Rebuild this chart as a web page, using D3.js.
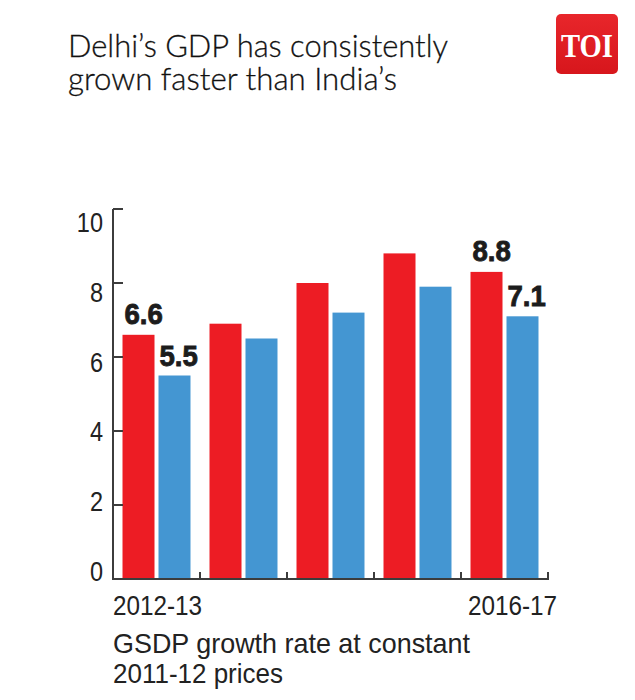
<!DOCTYPE html>
<html>
<head>
<meta charset="utf-8">
<script src="https://cdn.jsdelivr.net/npm/d3@7/dist/d3.min.js"></script>
<style>
  html, body { margin: 0; padding: 0; background: #ffffff; }
  svg { display: block; }
</style>
</head>
<body>
<svg id="chart" width="635" height="700"></svg>
<script>
// ---- data ----
const years = ["2012-13", "2013-14", "2014-15", "2015-16", "2016-17"];
const delhiGrowth = [6.6, 6.9, 8.0, 8.8, 8.3];
const indiaGrowth = [5.5, 6.5, 7.2, 7.9, 7.1];
const delhiLabels = ["6.6", "", "", "", "8.8"];
const indiaLabels = ["5.5", "", "", "", "7.1"];
const yTicks = [0, 2, 4, 6, 8, 10];
const xTickLabels = ["2012-13", "", "", "", "2016-17"];
const titleLines = ["Delhi\u2019s GDP has consistently", "grown faster than India\u2019s"];
const captionLines = ["GSDP growth rate at constant", "2011-12 prices"];
const logoText = "TOI";

// ---- style ----
const RED = "#ED1C24";
const BLUE = "#4496D2";
const AXIS = "#3c3c3c";
const INK = "#1c1c1c";

const svg = d3.select("#chart");

// ---- scales ----
const y = d3.scaleLinear().domain([0, 10]).range([579, 209]);
// tick labels in the original sit on a slightly compressed scale
const yLab = d3.scaleLinear().domain([0, 10]).range([y(0) - 8, y(10) + 13]);
const x = d3.scaleBand().domain(years).range([113, 548]).paddingInner(0).paddingOuter(0);
const x1 = d3.scaleBand().domain(["delhi", "india"]).range([0, x.bandwidth()])
  .paddingInner(0.111).paddingOuter(0.264);

const rows = years.map((yr, i) => ({
  year: yr, delhi: delhiGrowth[i], india: indiaGrowth[i],
  dl: delhiLabels[i], il: indiaLabels[i], xl: xTickLabels[i], i
}));

// ---- title ----
const titleWidths = [380, 329];
svg.append("g").selectAll("text").data(titleLines).join("text")
  .attr("x", 68)
  .attr("y", (d, i) => 57 + i * 33)
  .attr("font-family", "Lato, Roboto, 'Liberation Sans', sans-serif")
  .attr("font-weight", 300)
  .attr("font-size", 31)
  .attr("fill", "#111")
  .attr("stroke", "#111").attr("stroke-width", 0.3)
  .attr("textLength", (d, i) => titleWidths[i])
  .attr("lengthAdjust", "spacingAndGlyphs")
  .text(d => d);

// ---- logo ----
const logo = svg.append("g");
const grad = svg.append("defs").append("linearGradient")
  .attr("id", "logoGrad").attr("x1", 0).attr("y1", 0).attr("x2", 0).attr("y2", 1);
grad.append("stop").attr("offset", "0%").attr("stop-color", "#E8262B");
grad.append("stop").attr("offset", "100%").attr("stop-color", "#D7161C");
logo.append("rect")
  .attr("x", 556).attr("y", 14).attr("width", 62).attr("height", 60)
  .attr("rx", 5).attr("fill", "url(#logoGrad)");
logo.append("text")
  .attr("x", 561).attr("y", 57)
  .attr("font-family", "'Liberation Serif', 'DejaVu Serif', serif")
  .attr("font-weight", 700)
  .attr("font-size", 34)
  .attr("fill", "#ffffff")
  .attr("textLength", 52)
  .attr("lengthAdjust", "spacingAndGlyphs")
  .text(logoText);

// ---- bars ----
const groups = svg.append("g").selectAll("g").data(rows).join("g")
  .attr("transform", d => `translate(${x(d.year)},0)`);

groups.append("rect")
  .attr("x", x1("delhi")).attr("width", x1.bandwidth())
  .attr("y", d => y(d.delhi)).attr("height", d => y(0) - y(d.delhi))
  .attr("fill", RED);
groups.append("rect")
  .attr("x", x1("india")).attr("width", x1.bandwidth())
  .attr("y", d => y(d.india)).attr("height", d => y(0) - y(d.india))
  .attr("fill", BLUE);

// value labels
const valFont = "'Liberation Sans', Arial, sans-serif";
groups.append("text")
  .attr("x", 0).attr("y", 0)
  .attr("transform", d => `translate(${x1("delhi") + 2},${y(d.delhi) - 11}) scale(0.92,1)`)
  .attr("font-family", valFont).attr("font-weight", 700).attr("font-size", 30)
  .attr("stroke", INK).attr("stroke-width", 0.9)
  .attr("fill", INK).text(d => d.dl);
groups.append("text")
  .attr("x", 0).attr("y", 0)
  .attr("transform", d => `translate(${x1("india") + 1},${y(d.india) - 10}) scale(0.92,1)`)
  .attr("font-family", valFont).attr("font-weight", 700).attr("font-size", 30)
  .attr("stroke", INK).attr("stroke-width", 0.9)
  .attr("fill", INK).text(d => d.il);

// ---- y axis ----
const yAxis = svg.append("g");
yAxis.append("line")
  .attr("x1", x.range()[0]).attr("x2", x.range()[0])
  .attr("y1", y(10)).attr("y2", y(0) + 1)
  .attr("stroke", AXIS).attr("stroke-width", 2);
yAxis.selectAll("line.tick").data(yTicks).join("line")
  .attr("class", "tick")
  .attr("x1", x.range()[0]).attr("x2", x.range()[0] + 10)
  .attr("y1", d => y(d)).attr("y2", d => y(d))
  .attr("stroke", AXIS).attr("stroke-width", 2);
yAxis.selectAll("text").data(yTicks).join("text")
  .attr("x", 0).attr("y", 0)
  .attr("transform", d => `translate(${x.range()[0] - 10},${yLab(d)}) scale(0.84,1)`)
  .attr("dy", "0.36em")
  .attr("text-anchor", "end")
  .attr("font-family", "'Liberation Sans', Arial, sans-serif")
  .attr("font-size", 28)
  .attr("fill", "#222")
  .text(d => d);

// ---- x axis ----
const xAxis = svg.append("g");
xAxis.append("line")
  .attr("x1", x.range()[0] - 1).attr("x2", x.range()[1] + 1)
  .attr("y1", y(0)).attr("y2", y(0))
  .attr("stroke", AXIS).attr("stroke-width", 2);
xAxis.selectAll("line.tick").data(years).join("line")
  .attr("class", "tick")
  .attr("x1", d => x(d) + x.step()).attr("x2", d => x(d) + x.step())
  .attr("y1", y(0)).attr("y2", y(0) - 7)
  .attr("stroke", AXIS).attr("stroke-width", 2);

const xlWidth = 89;
xAxis.selectAll("text").data(rows.filter(r => r.xl)).join("text")
  .attr("x", (d) => d.i === 0 ? x(d.year) : x(d.year) + x.step() + 9 - xlWidth)
  .attr("y", 615)
  .attr("font-family", "'Liberation Sans', Arial, sans-serif")
  .attr("font-size", 28)
  .attr("fill", "#222")
  .attr("textLength", xlWidth)
  .attr("lengthAdjust", "spacingAndGlyphs")
  .text(d => d.xl);

// ---- caption ----
const captionWidths = [357, 170];
svg.append("g").selectAll("text").data(captionLines).join("text")
  .attr("x", x.range()[0])
  .attr("y", (d, i) => 653 + i * 30)
  .attr("font-family", "'Liberation Sans', Arial, sans-serif")
  .attr("font-size", 28)
  .attr("fill", "#222")
  .attr("textLength", (d, i) => captionWidths[i])
  .attr("lengthAdjust", "spacingAndGlyphs")
  .text(d => d);
</script>
</body>
</html>
